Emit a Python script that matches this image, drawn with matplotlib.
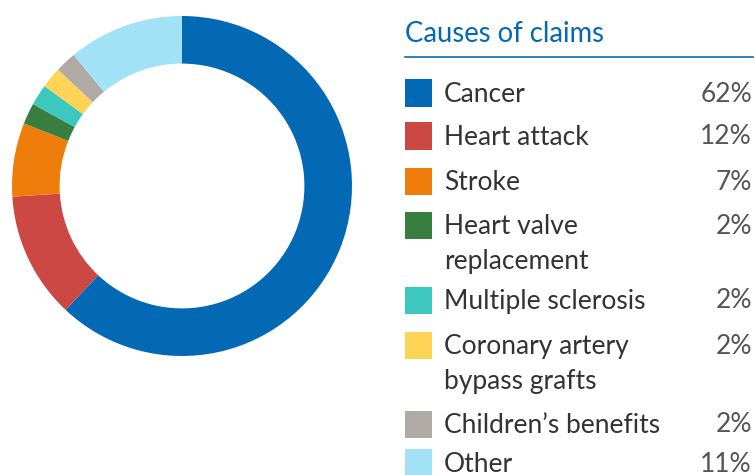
import matplotlib
matplotlib.use("Agg")
import matplotlib.pyplot as plt
from matplotlib.patches import Rectangle
from matplotlib.lines import Line2D

# data
causes = ["Cancer", "Heart attack", "Stroke", "Heart valve\nreplacement",
          "Multiple sclerosis", "Coronary artery\nbypass grafts",
          "Children\u2019s benefits", "Other"]
shares = [62, 12, 7, 2, 2, 2, 2, 11]
colors = ["#0369b5", "#cb4843", "#ef7d0b", "#387f3f",
          "#3cc8be", "#fdd455", "#afaaa6", "#a1e2f7"]

W, H = 755, 475
fig = plt.figure(figsize=(W / 100, H / 100), dpi=100)
plt.rcParams['font.family'] = ['Lato', 'DejaVu Sans']

def fx(x):
    return x / W

def fy(y):
    return 1 - y / H

# donut
cx, cy, r = 182, 186, 170
ax = fig.add_axes([fx(cx - r), fy(cy + r), 2 * r / W, 2 * r / H])
ax.pie(shares, colors=colors, startangle=90, counterclock=False, radius=1,
       wedgeprops=dict(width=0.28, linewidth=0))
ax.set_xlim(-1, 1)
ax.set_ylim(-1, 1)
ax.set_aspect('equal')
ax.axis('off')

# legend title and rule
fig.text(fx(405), fy(34), "Causes of claims", color="#0369b5", fontsize=19.8,
         va="center", ha="left")
fig.add_artist(Line2D([fx(405), fx(753)], [fy(57), fy(57)], color="#0369b5",
                      linewidth=1.2, transform=fig.transFigure))

# legend rows
row_y = [93, 136, 181, 225, 300, 345, 424, 463]
for name, val, c, y in zip(causes, shares, colors, row_y):
    fig.add_artist(Rectangle((fx(405), fy(y + 13.5)), 27 / W, 27 / H,
                             facecolor=c, edgecolor="none",
                             transform=fig.transFigure))
    fig.text(fx(444), fy(y - 11), name, color="#333333", fontsize=19,
             va="top", ha="left", linespacing=1.5)
    fig.text(fx(752), fy(y + 1), f"{val}%", color="#555555", fontsize=19,
             va="center", ha="right")

fig.savefig("out.png", dpi=100)
